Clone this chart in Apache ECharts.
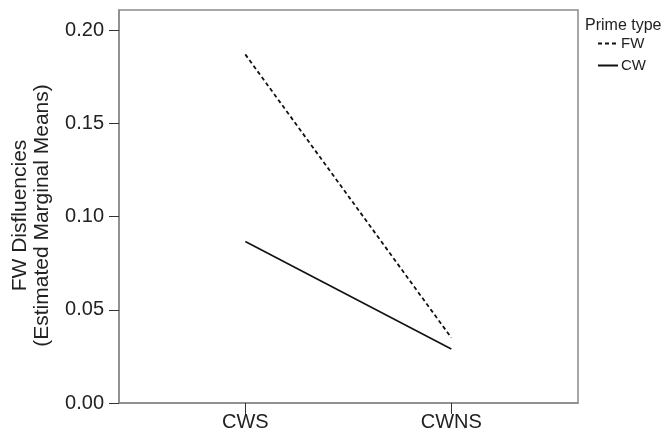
<!DOCTYPE html>
<html lang="en">
<head>
    <meta charset="UTF-8">
    <title>FW Disfluencies</title>
    <style>
        html, body { margin: 0; padding: 0; background: #fff; }
        #chart { width: 664px; height: 440px; }
    </style>
</head>
<body>
    <div id="chart"></div>
</body>
<script src="https://cdn.jsdelivr.net/npm/echarts@6/dist/echarts.min.js"></script>
<script>
// data
var categories = ['CWS', 'CWNS'];
var fwValues = [0.187, 0.035];
var cwValues = [0.0866, 0.029];
var yTicks = [0, 0.05, 0.10, 0.15, 0.20];

function toPoints(vals) {
  return vals.map(function (v, i) { return [i, v]; });
}

var chart = echarts.init(document.getElementById('chart'));
var font = 'Liberation Sans, Arial, sans-serif';
var option = {
  animation: false,
  textStyle: { fontFamily: font },
  title: {
    text: 'Prime type',
    left: 585,
    top: 18,
    padding: 0,
    textStyle: { fontSize: 16, fontWeight: 'normal', color: '#222', fontFamily: font }
  },
  legend: {
    orient: 'vertical',
    left: 597,
    top: 36,
    padding: 0,
    itemWidth: 20,
    itemHeight: 12,
    itemGap: 7,
    data: ['FW', 'CW'],
    itemStyle: { opacity: 0 },
    textStyle: { fontSize: 15, color: '#222', fontFamily: font, padding: [0, 0, 0, -2] }
  },
  grid: {
    left: 119,
    right: 86,
    top: 10,
    bottom: 37,
    containLabel: false,
    outerBoundsMode: 'none',
    show: true,
    borderColor: '#8a8a8a',
    borderWidth: 1.5
  },
  xAxis: {
    type: 'value',
    min: -0.613,
    max: 1.615,
    splitLine: { show: false },
    axisLine: { show: true, onZero: false, lineStyle: { color: '#8a8a8a', width: 1.5 } },
    axisTick: { show: true, length: 11, customValues: [0, 1], lineStyle: { color: '#333', width: 1 } },
    axisLabel: {
      customValues: [0, 1],
      margin: 9,
      fontSize: 20,
      color: '#222',
      formatter: function (v) { return categories[Math.round(v)]; }
    }
  },
  yAxis: {
    type: 'value',
    min: 0,
    max: 0.2108,
    name: 'FW Disfluencies\n(Estimated Marginal Means)',
    nameLocation: 'middle',
    nameRotate: 90,
    nameGap: 66,
    nameTextStyle: { fontSize: 21, color: '#222', lineHeight: 22, padding: [0, 18, 0, 0] },
    splitLine: { show: false },
    axisLine: { show: true, onZero: false, lineStyle: { color: '#8a8a8a', width: 1.5 } },
    axisTick: { show: true, length: 10, customValues: yTicks, lineStyle: { color: '#333', width: 1 } },
    axisLabel: {
      customValues: yTicks,
      margin: 15,
      fontSize: 20,
      color: '#222',
      formatter: function (v) { return v.toFixed(2); }
    }
  },
  series: [
    {
      name: 'FW',
      type: 'line',
      symbol: 'none',
      data: toPoints(fwValues),
      lineStyle: { color: '#111', width: 1.8, type: [4, 3] },
      itemStyle: { color: '#111' }
    },
    {
      name: 'CW',
      type: 'line',
      symbol: 'none',
      data: toPoints(cwValues),
      lineStyle: { color: '#111', width: 1.6, type: 'solid' },
      itemStyle: { color: '#111' }
    }
  ]
};
chart.setOption(option);
</script>
</html>
